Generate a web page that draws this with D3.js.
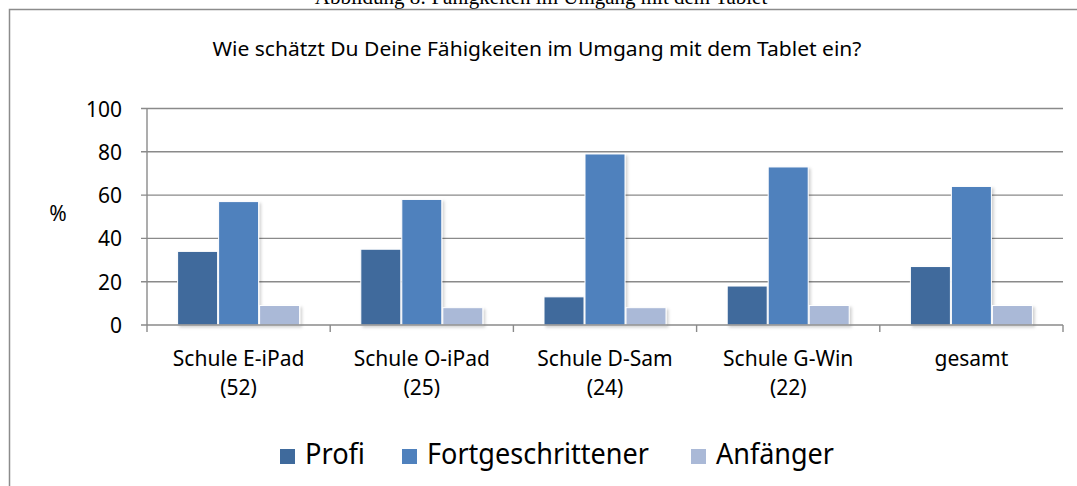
<!DOCTYPE html>
<html>
<head>
<meta charset="utf-8">
<script src="https://cdn.jsdelivr.net/npm/d3@7"></script>
<style>
  body { margin: 0; background: #fff; }
  text { font-family: "Noto Sans", "Open Sans", sans-serif; fill: #000; }
  .caption { font-family: "Liberation Serif", "DejaVu Serif", serif; }
</style>
</head>
<body>
<div id="chart"></div>
<script>
// data
const categories = ["Schule E-iPad|(52)", "Schule O-iPad|(25)", "Schule D-Sam|(24)", "Schule G-Win|(22)", "gesamt"];
const seriesNames = ["Profi", "Fortgeschrittener", "Anfänger"];
const profi = [34, 35, 13, 18, 27];
const fortgeschrittener = [57, 58, 79, 73, 64];
const anfaenger = [9, 8, 8, 9, 9];
const yTicks = [0, 20, 40, 60, 80, 100];
const colors = ["#3F6A9C", "#4F81BD", "#AAB9D7"];

const chartTitle = "Wie schätzt Du Deine Fähigkeiten im Umgang mit dem Tablet ein?";
const caption = "Abbildung 8: Fähigkeiten im Umgang mit dem Tablet";

function renderChart(){
  let total_width = 1077, total_height = 486;
  let plot = {left: 147, right: 1063, top: 108.5, bottom: 325};

  let svg = d3.select("#chart").append("svg")
    .attr("width", total_width)
    .attr("height", total_height);

  let defs = svg.append("defs");
  let f = defs.append("filter").attr("id", "shadow")
    .attr("x", "-20%").attr("y", "-20%").attr("width", "150%").attr("height", "150%");
  f.append("feDropShadow").attr("dx", 2).attr("dy", 2).attr("stdDeviation", 1.5)
    .attr("flood-color", "#000").attr("flood-opacity", 0.18);

  // caption above the frame (cut off at the top, as in the source)
  svg.append("text").attr("class", "caption")
    .attr("x", 541).attr("y", 4)
    .attr("text-anchor", "middle")
    .attr("font-size", 21)
    .text(caption);

  // chart frame
  svg.append("rect")
    .attr("x", 9.5).attr("y", 9.5)
    .attr("width", 1100).attr("height", 500)
    .attr("fill", "none").attr("stroke", "#8c8c8c").attr("stroke-width", 1.5);

  svg.append("text")
    .attr("x", 537).attr("y", 56)
    .attr("text-anchor", "middle")
    .attr("font-size", 20)
    .attr("textLength", 649).attr("lengthAdjust", "spacingAndGlyphs")
    .text(chartTitle);

  let x = d3.scaleBand().domain(categories)
    .range([plot.left, plot.right]).padding(0);
  let xs = d3.scaleBand().domain(seriesNames)
    .range([-61.5, 61.5]).padding(0);
  let y = d3.scaleLinear().domain([0, 100]).range([plot.bottom, plot.top]);

  // gridlines + y ticks
  svg.append("g").selectAll("line").data(yTicks.filter(d => d > 0)).enter()
    .append("line")
    .attr("x1", plot.left - 6).attr("x2", plot.right)
    .attr("y1", d => y(d)).attr("y2", d => y(d))
    .attr("stroke", "#8a8a8a").attr("stroke-width", 1.4);

  svg.append("g").selectAll("text").data(yTicks).enter()
    .append("text")
    .attr("x", 122).attr("y", d => y(d) + 8)
    .attr("text-anchor", "end")
    .attr("font-size", 21)
    .text(d => d);

  svg.append("text")
    .attr("x", 58).attr("y", 221)
    .attr("text-anchor", "middle")
    .attr("font-size", 21)
    .text("%");

  // bars
  let allSeries = [profi, fortgeschrittener, anfaenger];
  let rows = [];
  allSeries.forEach((vals, si) => {
    vals.forEach((v, ci) => rows.push({s: seriesNames[si], si: si, c: categories[ci], v: v}));
  });
  svg.append("g").selectAll("rect").data(rows).enter()
    .append("rect")
    .attr("x", d => x(d.c) + x.bandwidth()/2 + xs(d.s) + 0.5)
    .attr("width", xs.bandwidth() - 1)
    .attr("y", d => y(d.v))
    .attr("height", d => y(0) - y(d.v))
    .attr("fill", d => colors[d.si])
    .attr("stroke", "#fff").attr("stroke-width", 1)
    .attr("filter", "url(#shadow)");

  // axes lines
  svg.append("line")
    .attr("x1", plot.left).attr("x2", plot.left)
    .attr("y1", plot.top).attr("y2", plot.bottom)
    .attr("stroke", "#8a8a8a").attr("stroke-width", 1.4);
  svg.append("line")
    .attr("x1", plot.left - 6).attr("x2", plot.right)
    .attr("y1", plot.bottom).attr("y2", plot.bottom)
    .attr("stroke", "#8a8a8a").attr("stroke-width", 1.4);
  let tickXs = categories.map(c => x(c)).concat([plot.right]);
  svg.append("g").selectAll("line").data(tickXs).enter()
    .append("line")
    .attr("x1", d => d).attr("x2", d => d)
    .attr("y1", plot.bottom).attr("y2", plot.bottom + 7)
    .attr("stroke", "#8a8a8a").attr("stroke-width", 1.4);

  // category labels
  let labs = svg.append("g").selectAll("text").data(categories).enter()
    .append("text")
    .attr("text-anchor", "middle")
    .attr("font-size", 21);
  labs.each(function(d){
    let parts = d.split("|");
    let t = d3.select(this);
    parts.forEach((p, i) => {
      t.append("tspan")
        .attr("x", x(d) + x.bandwidth()/2)
        .attr("y", 366 + i*29)
        .text(p);
    });
  });

  // legend
  let legendX = [280, 402, 691];
  let legendW = [60, 222, 118];
  seriesNames.forEach((n, i) => {
    svg.append("rect")
      .attr("x", legendX[i]).attr("y", 449)
      .attr("width", 15).attr("height", 15)
      .attr("fill", colors[i]);
    svg.append("text")
      .attr("x", legendX[i] + 25).attr("y", 464)
      .attr("font-size", 29)
      .attr("textLength", legendW[i]).attr("lengthAdjust", "spacingAndGlyphs")
      .text(n);
  });
}

renderChart();
</script>
</body>
</html>
